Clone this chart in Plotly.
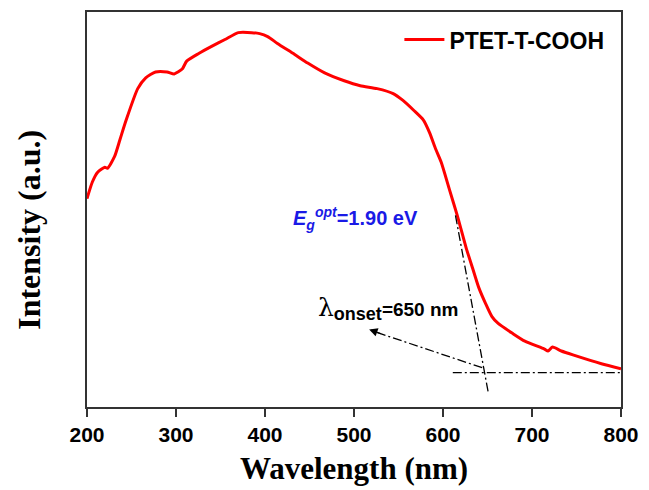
import plotly.graph_objects as go

# Absorption spectrum (arbitrary units)
wavelength = [200, 206, 212, 220, 223, 231, 237, 244, 257, 266, 277, 290, 298, 307, 312,
              326, 340, 355, 370, 385, 394, 403, 414, 433, 448, 467, 489, 507, 526, 544,
              555, 567, 578, 585, 592, 598, 607, 616, 626, 633, 640, 648, 655, 662, 678,
              692, 714, 718, 723, 733, 746, 778, 800]
intensity = [212, 229, 239, 244, 243, 255, 272, 292, 324, 335, 341, 341, 339, 344, 352,
             360, 367, 374, 381, 381, 380, 377, 370, 359, 350, 340, 332, 327, 324, 319,
             312, 302, 292, 279, 262, 249, 222, 195, 162, 142, 122, 105, 92, 85, 75,
             67, 59, 57, 61, 57, 53, 44, 39]

# Onset construction lines
tangent_x = [614, 651]
tangent_y = [195, 14]
baseline_x = [611, 800]
baseline_y = [35, 35]
arrow_x = [644, 522]
arrow_y = [40, 77]
arrow_head = (517, 79)
arrow_tail_short = (532, 74)

series_name = "PTET-T-COOH"
x_ticks = [200, 300, 400, 500, 600, 700, 800]

fig = go.Figure()
fig.add_trace(go.Scatter(x=wavelength, y=intensity, mode="lines", name=series_name,
                         line=dict(color="#ff0000", width=3, shape="spline", smoothing=0.6)))
dd = "9px,3px,2px,3px"
for xs, ys in [(tangent_x, tangent_y), (baseline_x, baseline_y), (arrow_x, arrow_y)]:
    fig.add_trace(go.Scatter(x=xs, y=ys, mode="lines", showlegend=False,
                             line=dict(color="black", width=1.3, dash=dd)))

fig.add_annotation(x=arrow_head[0], y=arrow_head[1], ax=arrow_tail_short[0], ay=arrow_tail_short[1],
                   axref="x", ayref="y", xref="x", yref="y", text="", showarrow=True,
                   arrowhead=2, arrowsize=1.3, arrowwidth=1.3, arrowcolor="black")

fig.add_annotation(x=457, y=100, xref="x", yref="y", xanchor="left", yanchor="middle",
                   showarrow=False,
                   text="<span style='font-size:25px;font-family:DejaVu Serif'>λ</span>"
                        "<b><sub><span style='font-size:18px'>onset</span></sub>=650 nm</b>",
                   font=dict(family="Liberation Sans", size=19, color="black"))
fig.add_annotation(x=429, y=192, xref="x", yref="y", xanchor="left", yanchor="middle",
                   showarrow=False,
                   text="<b><i>E</i><sub><i>g</i></sub><sup><i>opt</i></sup>=1.90 eV</b>",
                   font=dict(family="Liberation Sans", size=20, color="#1a1ae6"))

# Y-axis title placed as annotation (sits slightly below the plot centre in the reference)
fig.add_annotation(x=-87 / 540 + 28 / 540, y=(412 - 232) / 402, xref="paper", yref="paper",
                   xanchor="center", yanchor="middle", showarrow=False, textangle=-90,
                   text="<b>Intensity (a.u.)</b>",
                   font=dict(family="Liberation Serif", size=32, color="black"))

fig.update_layout(
    width=649, height=490,
    margin=dict(l=87, r=22, t=10, b=78),
    paper_bgcolor="white", plot_bgcolor="white",
    showlegend=True,
    legend=dict(x=0.585, y=0.93, xanchor="left", yanchor="middle", bgcolor="rgba(0,0,0,0)",
                font=dict(family="Liberation Sans", size=23, color="black", weight="bold"),
                itemwidth=40),
    xaxis=dict(range=[200, 800], tickvals=x_ticks, ticktext=[str(v) for v in x_ticks],
               ticks="outside", ticklen=8, tickwidth=1.5, tickcolor="#333",
               showline=True, linecolor="#333", linewidth=1.5, mirror=True,
               showgrid=False, zeroline=False,
               tickfont=dict(family="Liberation Sans", size=21, color="black", weight="bold"),
               title=dict(text="<b>Wavelength (nm)</b>", standoff=12,
                          font=dict(family="Liberation Serif", size=31, color="black"))),
    yaxis=dict(range=[0, 402], showticklabels=False, ticks="",
               showline=True, linecolor="#333", linewidth=1.5, mirror=True,
               showgrid=False, zeroline=False),
)
fig.write_html("out.html")
